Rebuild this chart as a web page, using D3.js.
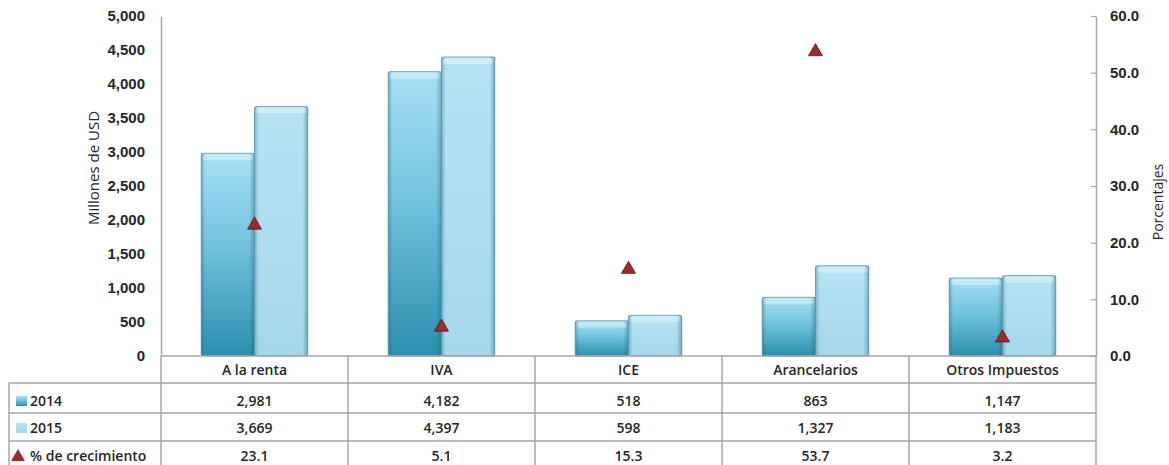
<!DOCTYPE html>
<html>
<head>
<meta charset="utf-8">
<script src="https://cdn.jsdelivr.net/npm/d3@7"></script>
<style>
  html, body { margin: 0; padding: 0; background: #fff; }
  svg { display: block; font-family: "Open Sans", "Liberation Sans", sans-serif; }
</style>
</head>
<body>
<svg id="chart" width="1169" height="465"></svg>
<script>
// Recaudación por tipo de impuesto, 2014 vs 2015
const categories = ["A la renta", "IVA", "ICE", "Arancelarios", "Otros Impuestos"];
const years = ["2014", "2015"];
const values2014 = [2981, 4182, 518, 863, 1147];
const values2015 = [3669, 4397, 598, 1327, 1183];
const growth = [23.1, 5.1, 15.3, 53.7, 3.2];
const leftTicks = [0, 500, 1000, 1500, 2000, 2500, 3000, 3500, 4000, 4500, 5000];
const rightTicks = [0, 10, 20, 30, 40, 50, 60];

const svg = d3.select("#chart");
const plotLeft = 161, plotRight = 1096, plotTop = 16, plotBottom = 356;
const gridColor = "#a6a6a6";
const textColor = "#262626";

const x = d3.scaleBand().domain(categories).range([plotLeft, plotRight]).padding(0);
const groupW = x.bandwidth() * 0.57;
const x1 = d3.scaleBand().domain(years).range([0, groupW]).padding(0);
const y = d3.scaleLinear().domain([0, 5000]).range([plotBottom, plotTop]);
const y2 = d3.scaleLinear().domain([0, 60]).range([plotBottom, plotTop]);

// gradients for the bars
const defs = svg.append("defs");
const g14 = defs.append("linearGradient").attr("id", "g2014").attr("x1", 0).attr("y1", 0).attr("x2", 0).attr("y2", 1);
g14.append("stop").attr("offset", "0%").attr("stop-color", "#a8e1f6");
g14.append("stop").attr("offset", "45%").attr("stop-color", "#72c3de");
g14.append("stop").attr("offset", "100%").attr("stop-color", "#2b8fae");
const g15 = defs.append("linearGradient").attr("id", "g2015").attr("x1", 0).attr("y1", 0).attr("x2", 0).attr("y2", 1);
g15.append("stop").attr("offset", "0%").attr("stop-color", "#b6e3f4");
g15.append("stop").attr("offset", "100%").attr("stop-color", "#a5d7ea");
const side = defs.append("linearGradient").attr("id", "side").attr("x1", 0).attr("y1", 0).attr("x2", 1).attr("y2", 0);
side.append("stop").attr("offset", "0%").attr("stop-color", "#1d5f75").attr("stop-opacity", 0.35);
side.append("stop").attr("offset", "8%").attr("stop-color", "#1d5f75").attr("stop-opacity", 0);
side.append("stop").attr("offset", "90%").attr("stop-color", "#1d5f75").attr("stop-opacity", 0);
side.append("stop").attr("offset", "100%").attr("stop-color", "#1d5f75").attr("stop-opacity", 0.4);

// left axis
const yAxis = d3.axisLeft(y).tickValues(leftTicks).tickSize(0).tickPadding(16).tickFormat(d3.format(","));
const gy = svg.append("g").attr("transform", `translate(${plotLeft},0)`).call(yAxis);
gy.select(".domain").attr("stroke", gridColor).attr("stroke-width", 1.5);
gy.selectAll("text").attr("font-size", 15).attr("font-weight", 600).attr("fill", textColor);

// right axis
const y2Axis = d3.axisRight(y2).tickValues(rightTicks).tickSize(0).tickPadding(14).tickFormat(d3.format(".1f"));
const gy2 = svg.append("g").attr("transform", `translate(${plotRight},0)`).call(y2Axis);
gy2.select(".domain").attr("stroke", gridColor).attr("stroke-width", 1.5);
gy2.selectAll("text").attr("font-size", 15).attr("font-weight", 600).attr("fill", textColor);
gy2.selectAll(".tick").append("line").attr("x1", -5).attr("x2", 0).attr("stroke", gridColor).attr("stroke-width", 1.2);

// axis titles
svg.append("text").attr("transform", `translate(99,168) rotate(-90)`).attr("text-anchor", "middle")
  .attr("font-size", 15).attr("font-weight", 500).attr("fill", textColor).text("Millones de USD");
svg.append("text").attr("transform", `translate(1163,202) rotate(-90)`).attr("text-anchor", "middle")
  .attr("font-size", 14).attr("font-weight", 500).attr("fill", textColor).text("Porcentajes");

// bars
const series = [
  { year: "2014", values: values2014, fill: "url(#g2014)" },
  { year: "2015", values: values2015, fill: "url(#g2015)" }
];
const offset = (x.bandwidth() - groupW) / 2;
series.forEach(s => {
  const g = svg.append("g");
  const bars = g.selectAll("g").data(categories).join("g")
    .attr("transform", c => `translate(${x(c) + offset + x1(s.year)},0)`);
  bars.append("rect")
    .attr("x", 0).attr("width", x1.bandwidth())
    .attr("y", (c, i) => y(s.values[i]))
    .attr("height", (c, i) => plotBottom - y(s.values[i]))
    .attr("rx", 2)
    .attr("fill", s.fill)
    .attr("stroke", "#5e9cb0").attr("stroke-width", 0.8);
  bars.append("rect")
    .attr("x", 0).attr("width", x1.bandwidth())
    .attr("y", (c, i) => y(s.values[i]))
    .attr("height", (c, i) => plotBottom - y(s.values[i]))
    .attr("fill", "url(#side)");
  bars.append("rect")
    .attr("x", 2).attr("width", x1.bandwidth() - 4)
    .attr("y", (c, i) => y(s.values[i]) + 1)
    .attr("height", 6).attr("rx", 2)
    .attr("fill", "#ffffff").attr("opacity", 0.35);
});

// growth markers on the secondary axis
const tri = d3.symbol().type(d3.symbolTriangle).size(85);
svg.append("g").selectAll("path").data(categories).join("path")
  .attr("d", tri)
  .attr("transform", (c, i) => `translate(${x(c) + x.bandwidth() / 2},${y2(growth[i])})`)
  .attr("fill", "#a0292b").attr("stroke", "#5a1414").attr("stroke-width", 0.8);

// data table
const rowLines = [383, 413, 441];
const tableLeft = 9, tableBottom = 465;
const t = svg.append("g").attr("stroke", gridColor).attr("stroke-width", 1.5);
t.append("line").attr("x1", plotLeft).attr("x2", plotRight).attr("y1", plotBottom).attr("y2", plotBottom);
rowLines.forEach(ry => t.append("line").attr("x1", tableLeft).attr("x2", plotRight).attr("y1", ry).attr("y2", ry));
t.append("line").attr("x1", tableLeft).attr("x2", tableLeft).attr("y1", rowLines[0]).attr("y2", tableBottom);
categories.forEach(c => t.append("line").attr("x1", x(c)).attr("x2", x(c)).attr("y1", plotBottom).attr("y2", tableBottom));
t.append("line").attr("x1", plotRight).attr("x2", plotRight).attr("y1", plotBottom).attr("y2", tableBottom);

const rowText = [
  { y: 370, cells: categories },
  { y: 401, cells: values2014.map(d3.format(",")) },
  { y: 428, cells: values2015.map(d3.format(",")) },
  { y: 456, cells: growth.map(d3.format(".1f")) }
];
rowText.forEach(r => {
  svg.append("g").selectAll("text").data(categories).join("text")
    .attr("x", c => x(c) + x.bandwidth() / 2)
    .attr("y", r.y).attr("dy", "0.35em").attr("text-anchor", "middle")
    .attr("font-size", 14).attr("font-weight", 600).attr("fill", textColor)
    .text((c, i) => r.cells[i]);
});

// legend keys in the first table column
const legend = svg.append("g");
legend.append("rect").attr("x", 16).attr("y", 396).attr("width", 11).attr("height", 10).attr("fill", "url(#g2014)");
legend.append("rect").attr("x", 16).attr("y", 423).attr("width", 11).attr("height", 10).attr("fill", "url(#g2015)");
legend.append("path").attr("d", tri.size(70)).attr("transform", "translate(18,457)")
  .attr("fill", "#a0292b").attr("stroke", "#5a1414").attr("stroke-width", 0.6);
[["2014", 401], ["2015", 428], ["% de crecimiento", 456]].forEach(([label, ly]) => {
  legend.append("text").attr("x", 30).attr("y", ly).attr("dy", "0.35em")
    .attr("font-size", 14).attr("font-weight", 600).attr("fill", textColor).text(label);
});
</script>
</body>
</html>
